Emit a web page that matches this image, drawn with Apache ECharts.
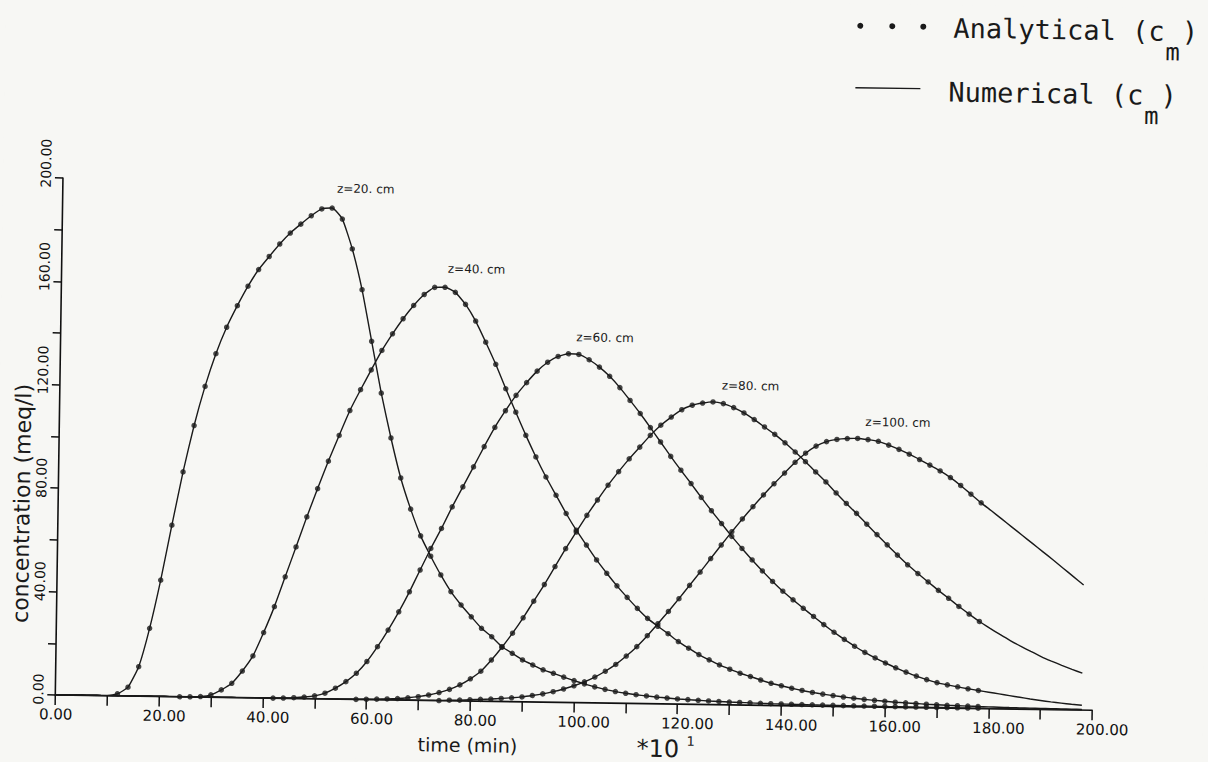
<!DOCTYPE html>
<html><head><meta charset="utf-8">
<script src="https://cdn.jsdelivr.net/npm/echarts@6/dist/echarts.min.js"></script>
<style>
html,body{margin:0;padding:0;width:1208px;height:762px;overflow:hidden;background:#f7f7f4;}
#chart{width:1208px;height:762px;transform:rotate(0.85deg);transform-origin:604px 381px;}
</style></head><body><div id="chart"></div>
<script>
// time (units of 10 min)
const time = [0,2,4,6,8,10,12,14,16,18,20,22,24,26,28,30,32,34,36,38,40,42,44,46,48,50,52,54,56,58,
  60,62,64,66,68,70,72,74,76,78,80,82,84,86,88,90,92,94,96,98,100,102,104,106,108,110,112,114,116,118,
  120,122,124,126,128,130,132,134,136,138,140,142,144,146,148,150,152,154,156,158,160,162,164,166,168,170,
  172,174,176,178,180,182,184,186,188,190,192,194,196,198];

const z20 = [0,0,0,0,0, 0,0.8,3.4,11.4,26.3, 45,66.3,87,105,120.2, 132.9,143.2,151.6,159.2,165.7,
  170.8,175.7,180,183.5,186.8, 189.5,189.9,185.7,174.2,158.5, 138.6,118.6,101.3,85.9,73.9, 63.6,55.8,48.6,42.2,37.1,
  32.6,28.2,25,21.2,18.7, 16.2,14.3,12.5,11.2,9.8, 8.5,7.3,6.2,5.3,4.5, 3.9,3.4,3.0,2.6,2.3,
  2.0,1.8,1.6,1.4,1.25, 1.1,1.0,0.9,0.8,0.7, 0.65,0.6,0.55,0.5,0.45, 0.4,0.38,0.35,0.32,0.3,
  0.28,0.26,0.24,0.22,0.2, 0.19,0.18,0.17,0.16,0.15, 0.14,0.13,0.12,0.11,0.1, 0.1,0.09,0.09,0.08,0.08];

const z40 = [0,0,0,0,0, 0,0,0,0,0, 0,0,0,0.05,0.2, 0.9,2.9,5.5,10.3,16.2,
  25.3,35.4,47,58.6,70.3, 81.3,92,102,111.7,119.8, 127.5,135.1,141.6,147.5,152.7, 157,159.8,159.9,158,153.4,
  147,138.9,130.4,121,112, 103.1,94.8,87.1,80.1,73.1, 66.7,61,55.3,50.2,45.4, 41,36.8,33,30,27.2,
  24.2,21.7,19.3,17.3,15.4, 13.8,12.3,11.1,9.8,8.6, 7.7,6.8,6.0,5.3,4.7, 4.2,3.7,3.3,2.9,2.6,
  2.3,2.0,1.8,1.6,1.4, 1.25,1.1,1.0,0.9,0.8, 0.72,0.65,0.58,0.52,0.47, 0.42,0.38,0.34,0.3,0.27];

const z60 = [0,0,0,0,0, 0,0,0,0,0, 0,0,0,0,0, 0,0,0,0,0,
  0,0,0.1,0.3,0.6, 1.1,2.2,4.2,6.8,10.1, 14.7,20.5,27,34.1,41.9, 50.4,58.8,66.6,75,82.8,
  90.6,98.5,106,112.5,118.5, 123.5,128,131.5,133.8,134.9, 134.7,132.7,129.9,126.4,122.1, 117.2,112.2,106.8,101.3,95.8,
  90.5,85.4,80.1,75,70.1, 65.2,60.6,56.2,52,48, 44.3,41,37.8,34.7,31.6, 28.7,26,23.4,21.1,19,
  17.1,15.3,13.7,12.2,10.9, 9.8,9.0,8.3,7.6,7.0, 6.4,5.8,5.2,4.6,4.0, 3.5,3.0,2.6,2.2,1.9];

const z80 = [0,0,0,0,0, 0,0,0,0,0, 0,0,0,0,0, 0,0,0,0,0,
  0,0,0,0,0, 0,0,0,0,0, 0.1,0.2,0.35,0.55,0.9, 1.4,2.1,3.1,4.4,6.2,
  8.6,11.6,16,21,26.5, 32.5,39,45.5,52.5,59.5, 66,72.5,78.5,84.3,89.6, 94.6,99.2,103.8,107.8,111,
  113.9,115.7,116.6,117.1,116.5, 115,113,110.5,107.7,104.9, 101.7,98.2,94.5,90.6,86.8, 82.6,78.6,74.8,70.7,66.7,
  62.8,58.9,55.2,51.9,48.7, 45.5,42.5,39.4,36.5,33.7, 31.2,28.8,26.5,24.4,22.4, 20.5,18.8,17.2,15.7,14.3];

const z100 = [0,0,0,0,0, 0,0,0,0,0, 0,0,0,0,0, 0,0,0,0,0,
  0,0,0,0,0, 0,0,0,0,0, 0,0,0,0,0, 0,0,0,0.2,0.3,
  0.5,0.7,0.9,1.2,1.5, 1.9,2.5,3.2,4.1,5.2, 6.5,8.1,10,12.3,15, 18.3,22,26.3,31,35.8,
  40.8,46,51.2,56.5,61.8, 67,72,76.8,81.4,85.8, 90,94.2,97.8,100.6,102.4, 103.3,103.7,103.8,103.4,102.8,
  101.4,99.8,98,96,93.9, 91.7,89.2,86.2,82.9,79.6, 76.6,73.5,70.4,67.3,64.2, 61.1,58,54.8,51.6,48.4];

const curveNames = ['z=20. cm','z=40. cm','z=60. cm','z=80. cm','z=100. cm'];
const curves = [z20, z40, z60, z80, z100];
const analyticalStart = [12, 24, 42, 58, 74];
const analyticalEnd = 178;

const xTickLabels = ['0.00','20.00','40.00','60.00','80.00','100.00','120.00','140.00','160.00','180.00','200.00'];
const yTickLabels = ['0.00','40.00','80.00','120.00','160.00','200.00'];

// layout (label offsets from curve maxima, px)
const labelOffsets = [[5,-19],[3,-18],[8,-16],[9,-16],[8,-16]];

const INK = '#1a1a1a';
const chart = echarts.init(document.getElementById('chart'), null, {renderer:'svg'});

const series = [];
curves.forEach((vals, k) => {
  series.push({
    type:'line', name:'Numerical', data: time.map((t,i)=>[t, vals[i]]),
    showSymbol:false, smooth:0.15, lineStyle:{color:INK, width:1.4}, silent:true, animation:false, z:2,
    markPoint:{
      symbol:'circle', symbolSize:1, silent:true, animation:false,
      itemStyle:{color:'rgba(0,0,0,0)'},
      data:[{type:'max', name: curveNames[k]}],
      label:{show:true, position: labelOffsets[k], formatter: curveNames[k],
        color:INK, fontFamily:'DejaVu Sans', fontSize:12, align:'left', verticalAlign:'middle'}
    }
  });
  series.push({
    type:'scatter', name:'Analytical',
    data: time.map((t,i)=>[t, vals[i]]).filter(p => p[0] >= analyticalStart[k] && p[0] <= analyticalEnd),
    symbolSize:5.5, itemStyle:{color:INK}, silent:true, animation:false, z:3
  });
});

const axisCommon = {
  type:'value', min:0, max:200,
  splitLine:{show:false},
  axisLine:{show:true, onZero:false, lineStyle:{color:'#111', width:1.6}},
};

const MONO = '27px "DejaVu Sans Mono"';
const SUB = '24px "DejaVu Sans Mono"';
const CW = 16.26; // mono advance at 27px

chart.setOption({
  backgroundColor:'#f7f7f4',
  animation:false,
  grid:{left:60, top:186, width:1037, height:517, containLabel:false},
  xAxis: Object.assign({}, axisCommon, {
    interval:20,
    axisTick:{show:true, length:10, lineStyle:{color:'#111', width:1.5}},
    minorTick:{show:true, splitNumber:2, length:10, lineStyle:{color:'#111', width:1.5}},
    axisLabel:{formatter: v => xTickLabels[Math.round(v/20)], fontFamily:'DejaVu Sans', fontSize:15,
      color:'#111', align:'left', padding:[0,0,0,-16], margin:12}
  }),
  yAxis: Object.assign({}, axisCommon, {
    interval:40,
    axisTick:{show:true, length:8, lineStyle:{color:'#111', width:1.5}},
    minorTick:{show:true, splitNumber:2, length:8, lineStyle:{color:'#111', width:1.5}},
    axisLabel:{formatter: v => yTickLabels[Math.round(v/40)], fontFamily:'DejaVu Sans', fontSize:14,
      color:'#111', rotate:90, align:'left', verticalAlign:'bottom', padding:[0,0,0,-10], margin:10}
  }),
  series: series,
  graphic:[
    {type:'text', x:24, y:512, rotation:Math.PI/2, silent:true,
      style:{text:'concentration (meq/l)', font:'22px "DejaVu Sans"', fill:INK, align:'center', verticalAlign:'middle'}},
    {type:'text', x:423, y:747, silent:true,
      style:{text:'time (min)', font:'19px "DejaVu Sans"', fill:INK, align:'left', verticalAlign:'middle'}},
    {type:'text', x:642, y:748, silent:true,
      style:{text:'*10', font:'24px "DejaVu Sans"', fill:INK, align:'left', verticalAlign:'middle'}},
    {type:'text', x:692, y:740, silent:true,
      style:{text:'1', font:'13px "DejaVu Sans"', fill:INK, align:'left', verticalAlign:'middle'}},
    {type:'circle', silent:true, shape:{cx:855, cy:22, r:3}, style:{fill:INK}},
    {type:'circle', silent:true, shape:{cx:887, cy:22, r:3}, style:{fill:INK}},
    {type:'circle', silent:true, shape:{cx:918, cy:22, r:3}, style:{fill:INK}},
    {type:'text', x:948, y:23, silent:true,
      style:{text:'Analytical (c', font:MONO, fill:INK, align:'left', verticalAlign:'middle'}},
    {type:'text', x:948 + 13*CW + 1, y:44, silent:true,
      style:{text:'m', font:SUB, fill:INK, align:'left', verticalAlign:'middle'}},
    {type:'text', x:948 + 14*CW + 1, y:23, silent:true,
      style:{text:')', font:MONO, fill:INK, align:'left', verticalAlign:'middle'}},
    {type:'line', silent:true, shape:{x1:851, y1:84, x2:916, y2:84}, style:{stroke:INK, lineWidth:1.4}},
    {type:'text', x:944, y:87, silent:true,
      style:{text:'Numerical (c', font:MONO, fill:INK, align:'left', verticalAlign:'middle'}},
    {type:'text', x:944 + 12*CW + 1, y:108, silent:true,
      style:{text:'m', font:SUB, fill:INK, align:'left', verticalAlign:'middle'}},
    {type:'text', x:944 + 13*CW + 1, y:87, silent:true,
      style:{text:')', font:MONO, fill:INK, align:'left', verticalAlign:'middle'}}
  ]
});
</script></body></html>
